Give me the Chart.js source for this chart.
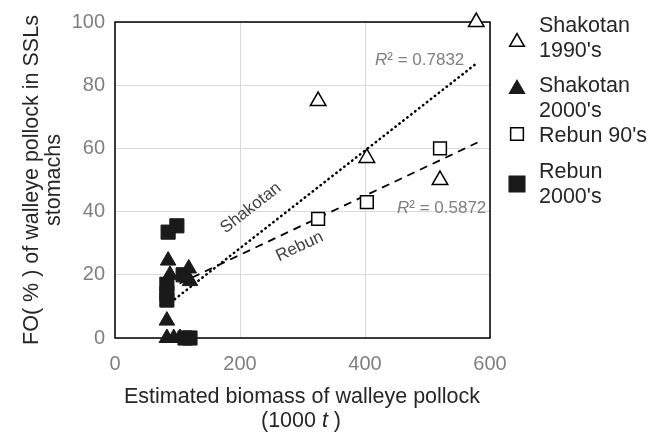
<!DOCTYPE html>
<html>
<head>
<meta charset="utf-8">
<script src="https://cdn.jsdelivr.net/npm/chart.js@4/dist/chart.umd.min.js"></script>
<style>
  html, body { margin: 0; padding: 0; background: #fff; }
</style>
</head>
<body>
<canvas id="myChart" width="662" height="436"></canvas>
<script>
// Values
const shakotan90X = [578, 325, 403, 520];
const shakotan90Y = [100, 75, 57, 50];
const shakotan00X = [85, 88, 118, 120, 83, 83, 94, 104];
const shakotan00Y = [24.5, 20, 22, 18, 5.5, 0, 0, 0];
const rebun90X = [325, 403, 520];
const rebun90Y = [37.7, 43, 60];
const rebun00X = [99, 85, 83, 83, 83, 109, 112, 120];
const rebun00Y = [35.5, 33.5, 17, 14, 12, 20, 0, 0];

const xTicks = [0, 200, 400, 600];
const yTicks = [0, 20, 40, 60, 80, 100];
const r2Shakotan = '0.7832';
const r2Rebun = '0.5872';
const trendEnd = 580;

const FONT = "'Liberation Sans', Arial, sans-serif";
const DARK = '#262626';
const GRAY = '#7f7f7f';

function toPoints(xs, ys) {
    return xs.map((x, i) => ({ x: x, y: ys[i] }));
}

// least squares fit
function fit(xs, ys) {
    const n = xs.length;
    const mx = xs.reduce((a, b) => a + b, 0) / n;
    const my = ys.reduce((a, b) => a + b, 0) / n;
    let sxy = 0, sxx = 0;
    xs.forEach((x, i) => {
        sxy += (x - mx) * (ys[i] - my);
        sxx += (x - mx) * (x - mx);
    });
    const slope = sxy / sxx;
    return { slope: slope, intercept: my - slope * mx, minX: Math.min(...xs) };
}

const shakFit = fit(shakotan90X.concat(shakotan00X), shakotan90Y.concat(shakotan00Y));
const rebFit = fit(rebun90X.concat(rebun00X), rebun90Y.concat(rebun00Y));

function trendPoints(f) {
    return [f.minX, trendEnd].map(x => ({ x: x, y: f.slope * x + f.intercept }));
}

function drawLabelOnLine(ctx, chart, f, dataX, offset, text) {
    const xs = chart.scales.x, ys = chart.scales.y;
    const p1x = xs.getPixelForValue(0), p1y = ys.getPixelForValue(f.intercept);
    const p2x = xs.getPixelForValue(100), p2y = ys.getPixelForValue(f.slope * 100 + f.intercept);
    const ang = Math.atan2(p2y - p1y, p2x - p1x);
    const px = xs.getPixelForValue(dataX);
    const py = ys.getPixelForValue(f.slope * dataX + f.intercept);
    ctx.save();
    ctx.translate(px, py);
    ctx.rotate(ang);
    ctx.fillStyle = '#404040';
    ctx.font = '17px ' + FONT;
    ctx.textAlign = 'center';
    ctx.textBaseline = 'middle';
    ctx.fillText(text, 0, offset);
    ctx.restore();
}

function drawR2(ctx, x, y, value) {
    ctx.save();
    ctx.fillStyle = GRAY;
    ctx.textBaseline = 'middle';
    ctx.textAlign = 'left';
    ctx.font = 'italic 17px ' + FONT;
    ctx.fillText('R', x, y);
    const w = ctx.measureText('R').width;
    ctx.font = '17px ' + FONT;
    ctx.fillText('\u00b2 = ' + value, x + w, y);
    ctx.restore();
}

const extras = {
    id: 'extras',
    beforeDatasetsDraw(chart) {
        const { ctx, chartArea: a } = chart;
        ctx.save();
        ctx.strokeStyle = '#000';
        ctx.lineWidth = 1.5;
        ctx.strokeRect(a.left, a.top, a.right - a.left, a.bottom - a.top);
        ctx.restore();
    },
    afterDraw(chart) {
        const ctx = chart.ctx;

        // trendline labels
        drawLabelOnLine(ctx, chart, shakFit, 242, -25, 'Shakotan');
        drawLabelOnLine(ctx, chart, rebFit, 283, 18, 'Rebun');
        drawR2(ctx, 375, 60, r2Shakotan);
        drawR2(ctx, 397, 208, r2Rebun);

        // axis titles
        ctx.save();
        ctx.fillStyle = DARK;
        ctx.font = '21.5px ' + FONT;
        ctx.textAlign = 'center';
        ctx.textBaseline = 'middle';
        ctx.fillText('Estimated biomass of walleye pollock', 302, 397);
        const a1 = '(1000 ', a2 = 't', a3 = ' )';
        const w1 = ctx.measureText(a1).width, w3 = ctx.measureText(a3).width;
        ctx.font = 'italic 21.5px ' + FONT;
        const w2 = ctx.measureText(a2).width;
        const sx = 301 - (w1 + w2 + w3) / 2;
        ctx.textAlign = 'left';
        ctx.font = '21.5px ' + FONT;
        ctx.fillText(a1, sx, 421);
        ctx.font = 'italic 21.5px ' + FONT;
        ctx.fillText(a2, sx + w1, 421);
        ctx.font = '21.5px ' + FONT;
        ctx.fillText(a3, sx + w1 + w2, 421);

        ctx.save();
        ctx.translate(32, 180);
        ctx.rotate(-Math.PI / 2);
        ctx.textAlign = 'center';
        ctx.fillText('FO( % ) of walleye pollock in SSLs', 0, 0);
        ctx.fillText('stomachs', 0, 22);
        ctx.restore();

        // legend
        const items = [
            { ds: 0, lines: ['Shakotan', "1990's"], ty: 26, my: 42, r: 8.5 },
            { ds: 1, lines: ['Shakotan', "2000's"], ty: 86, my: 89, r: 8.5 },
            { ds: 2, lines: ["Rebun 90's"], ty: 136, my: 134, r: 9 },
            { ds: 3, lines: ['Rebun', "2000's"], ty: 172, my: 184, r: 11 }
        ];
        ctx.font = '21.5px ' + FONT;
        ctx.textAlign = 'left';
        items.forEach(it => {
            const d = chart.data.datasets[it.ds];
            ctx.save();
            ctx.fillStyle = d.backgroundColor;
            ctx.strokeStyle = d.borderColor;
            ctx.lineWidth = 1.5;
            Chart.helpers.drawPoint(ctx, { pointStyle: d.pointStyle, radius: it.r, rotation: 0, borderWidth: 1.5 }, 517, it.my);
            ctx.restore();
            ctx.fillStyle = DARK;
            it.lines.forEach((t, i) => ctx.fillText(t, 539, it.ty + i * 25));
        });
        ctx.restore();
    }
};

const ctx = document.getElementById('myChart');

const myChart = new Chart(ctx, {
    type: 'scatter',
    data: {
        datasets: [
            {
                label: "Shakotan 1990's",
                data: toPoints(shakotan90X, shakotan90Y),
                pointStyle: 'triangle',
                pointRadius: 9,
                backgroundColor: '#ffffff',
                borderColor: '#000000',
                borderWidth: 1.5,
                clip: false
            },
            {
                label: "Shakotan 2000's",
                data: toPoints(shakotan00X, shakotan00Y),
                pointStyle: 'triangle',
                pointRadius: 9,
                backgroundColor: '#1a1a1a',
                borderColor: '#1a1a1a',
                borderWidth: 1,
                clip: false
            },
            {
                label: "Rebun 90's",
                data: toPoints(rebun90X, rebun90Y),
                pointStyle: 'rect',
                pointRadius: 9,
                backgroundColor: '#ffffff',
                borderColor: '#000000',
                borderWidth: 1.5,
                clip: false
            },
            {
                label: "Rebun 2000's",
                data: toPoints(rebun00X, rebun00Y),
                pointStyle: 'rect',
                pointRadius: 10,
                backgroundColor: '#1a1a1a',
                borderColor: '#1a1a1a',
                borderWidth: 1,
                clip: false
            },
            {
                label: 'Shakotan trend',
                type: 'line',
                data: trendPoints(shakFit),
                borderColor: '#000000',
                borderWidth: 2.5,
                borderDash: [0.5, 4.5],
                borderCapStyle: 'round',
                pointRadius: 0,
                fill: false,
                order: 5
            },
            {
                label: 'Rebun trend',
                type: 'line',
                data: trendPoints(rebFit),
                borderColor: '#000000',
                borderWidth: 1.8,
                borderDash: [8, 6],
                pointRadius: 0,
                fill: false,
                order: 5
            }
        ]
    },
    options: {
        responsive: false,
        animation: false,
        layout: { padding: { top: 20, right: 172, left: 0, bottom: 0 } },
        plugins: {
            legend: { display: false },
            tooltip: { enabled: false }
        },
        scales: {
            x: {
                type: 'linear',
                min: 0,
                max: 600,
                afterFit(scale) { scale.height = 98; },
                afterBuildTicks(scale) { scale.ticks = xTicks.map(v => ({ value: v })); },
                grid: { color: '#d9d9d9', drawTicks: false, lineWidth: 1 },
                border: { display: false },
                ticks: {
                    color: GRAY,
                    padding: 14,
                    font: { family: FONT, size: 20 }
                }
            },
            y: {
                type: 'linear',
                min: 0,
                max: 100,
                afterFit(scale) { scale.width = 115; },
                afterBuildTicks(scale) { scale.ticks = yTicks.map(v => ({ value: v })); },
                grid: { color: '#d9d9d9', drawTicks: false, lineWidth: 1 },
                border: { display: false },
                ticks: {
                    color: GRAY,
                    padding: 10,
                    font: { family: FONT, size: 20 }
                }
            }
        }
    },
    plugins: [extras]
});
</script>
</body>
</html>
